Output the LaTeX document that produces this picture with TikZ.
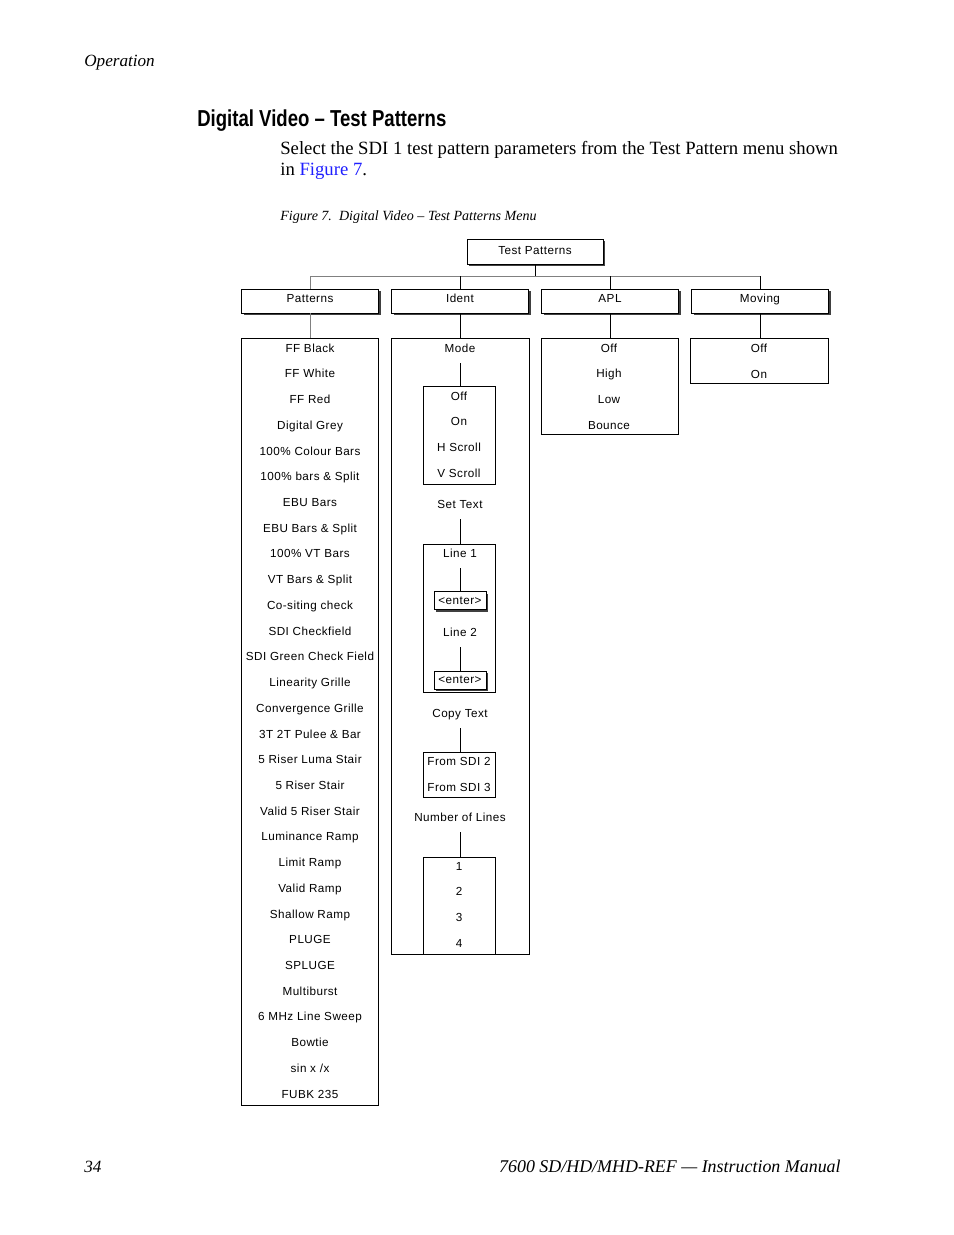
\documentclass[tikz,border=0pt]{standalone}
\usepackage{fontspec}
\setmainfont{Liberation Serif}
\newfontfamily\menufont[LetterSpace=4]{Liberation Sans}
\newfontfamily\headfont[FakeStretch=0.805]{Liberation Sans}
\usepackage{tikz}
\usetikzlibrary{shadows,positioning}
\definecolor{linkblue}{HTML}{1F1FFF}
\definecolor{busgray}{gray}{0.5}
\newcommand\px{0.6415pt}
\tikzset{
  menutext/.style={font=\menufont\fontsize{7.5}{9}\selectfont},
  menubox/.style={draw=black,line width=0.6pt,fill=white,inner sep=0pt,menutext},
  shadowbox/.style={menubox,drop shadow={shadow xshift=1.3pt,shadow yshift=-1.3pt,opacity=1,fill=black!75}},
  headbox/.style={shadowbox,text height=5.4pt,text depth=3.8pt},
  listbox/.style={draw=black,line width=0.6pt,inner sep=0pt},
  menuitem/.style={menutext,inner sep=0pt,text height=5.4pt,text depth=0pt},
  menuline/.style={draw=black,line width=0.6pt},
  subline/.style={menuline,shorten <=7pt},
  busline/.style={draw=busgray,line width=0.6pt},
  pagetext/.style={inner sep=0pt,anchor=base west,font=\fontsize{11}{13}\selectfont}
}

\begin{document}
\begin{tikzpicture}[x=0.6415pt,y=-0.6415pt]
\useasboundingbox (0,0) rectangle (954,1235);
% page text
\node[pagetext] (runhead) at (84,66) {\itshape Operation};
\node[pagetext,font=\headfont\bfseries\fontsize{14.8}{18}\selectfont] (heading) at (197,126) {Digital Video \textendash{} Test Patterns};
\node[pagetext,font=\fontsize{12}{14}\selectfont] (body1) at (280,154) {Select the SDI 1 test pattern parameters from the Test Pattern menu shown};
\node[pagetext,font=\fontsize{12}{14}\selectfont] (body2) at (280,175) {in \textcolor{linkblue}{Figure 7}.};
\node[pagetext,font=\itshape\fontsize{9}{11}\selectfont] (caption) at (280,220) {Figure 7.\ \ Digital Video -- Test Patterns Menu};
\node[pagetext,font=\itshape\fontsize{11}{13}\selectfont] (pagenum) at (84,1172) {34};
\node[pagetext,anchor=base east,font=\itshape\fontsize{11.5}{13}\selectfont] (manual) at (841,1172) {7600 SD/HD/MHD-REF --- Instruction Manual};

% top levels
\node[shadowbox,text height=5.4pt,text depth=2pt,minimum width=136*\px,minimum height=25*\px] (tp) at (535,251.5) {Test Patterns};
\node[headbox,minimum width=137*\px,minimum height=24*\px] (pat) at (310,301) {Patterns};
\node[headbox,minimum width=137*\px,minimum height=24*\px] (ident) at (460,301) {Ident};
\node[headbox,minimum width=137*\px,minimum height=24*\px] (apl) at (610,301) {APL};
\node[headbox,minimum width=137*\px,minimum height=24*\px] (moving) at (760,301) {Moving};
\coordinate (bus) at (535,276);
\draw[menuline] (tp.south) -- (bus);
\draw[busline] (pat.north |- bus) -- (moving.north |- bus);
\draw[busline] (pat.north |- bus) -- (pat.north);
\foreach \n in {ident,apl,moving}{\draw[menuline] (\n.north |- bus) -- (\n.north);}

% lists
\node[listbox,minimum width=137*\px,minimum height=767*\px] (patlist) at (309.5,721.5) {};
\node[listbox,minimum width=138*\px,minimum height=616*\px] (idlist) at (460,646) {};
\node[listbox,minimum width=137*\px,minimum height=96*\px] (apllist) at (609.5,386) {};
\node[listbox,minimum width=138*\px,minimum height=45*\px] (movlist) at (759,360.5) {};
\draw[busline] (pat.south) -- (pat.south |- patlist.north);
\draw[menuline] (ident.south) -- (ident.south |- idlist.north);
\draw[menuline] (apl.south) -- (apl.south |- apllist.north);
\draw[menuline] (moving.south) -- (moving.south |- movlist.north);

\foreach \t [count=\i from 0] in {FF Black,FF White,FF Red,Digital Grey,100\% Colour Bars,
  100\% bars \& Split,EBU Bars,EBU Bars \& Split,100\% VT Bars,VT Bars \& Split,
  Co-siting check,SDI Checkfield,SDI Green Check Field,Linearity Grille,Convergence Grille,
  3T 2T Pulee \& Bar,5 Riser Luma Stair,5 Riser Stair,Valid 5 Riser Stair,Luminance Ramp,
  Limit Ramp,Valid Ramp,Shallow Ramp,PLUGE,SPLUGE,Multiburst,6 MHz Line Sweep,Bowtie,
  sin x /x,FUBK 235}
  \node[menuitem] (pitem\i) at (310,348+25.72*\i) {\t};
\foreach \t [count=\i from 0] in {Off,High,Low,Bounce}
  \node[menuitem] (aitem\i) at (609,348+25.6*\i) {\t};
\foreach \t [count=\i from 0] in {Off,On}
  \node[menuitem] (mitem\i) at (759,348+26*\i) {\t};

% ident branch
\node[menuitem] (mode) at (460,348) {Mode};
\node[listbox,minimum width=72*\px,minimum height=98*\px] (modebox) at (459,435) {};
\foreach \t [count=\i from 0] in {Off,On,H Scroll,V Scroll}
  \node[menuitem] (moditem\i) at (459,396+25.7*\i) {\t};
\node[menuitem] (settext) at (460,504) {Set Text};
\node[listbox,minimum width=72*\px,minimum height=148*\px] (linebox) at (459,618) {};
\node[menuitem] (line1) at (460,553) {Line 1};
\node[shadowbox,minimum width=52*\px,minimum height=18*\px] (enter1) at (460,600.5) {<enter>};
\node[menuitem] (line2) at (460,632) {Line 2};
\node[shadowbox,minimum width=52*\px,minimum height=18*\px] (enter2) at (460,680) {<enter>};
\node[menuitem] (copytext) at (460,713) {Copy Text};
\node[listbox,minimum width=72*\px,minimum height=45*\px] (frombox) at (459,774.5) {};
\node[menuitem] (from2) at (459,761) {From SDI 2};
\node[menuitem] (from3) at (459,787) {From SDI 3};
\node[menuitem] (numlines) at (460,817) {Number of Lines};
\node[listbox,minimum width=72*\px,minimum height=97*\px] (numbox) at (459,905.5) {};
\foreach \t [count=\i from 0] in {1,2,3,4}
  \node[menuitem] (numitem\i) at (459,866+25.6*\i) {\t};
\draw[subline] (mode.south) -- (mode.south |- modebox.north);
\draw[subline] (settext.south) -- (settext.south |- linebox.north);
\draw[subline] (line1.south) -- (enter1.north);
\draw[subline] (line2.south) -- (enter2.north);
\draw[subline] (copytext.south) -- (copytext.south |- frombox.north);
\draw[subline] (numlines.south) -- (numlines.south |- numbox.north);
\end{tikzpicture}
\end{document}
